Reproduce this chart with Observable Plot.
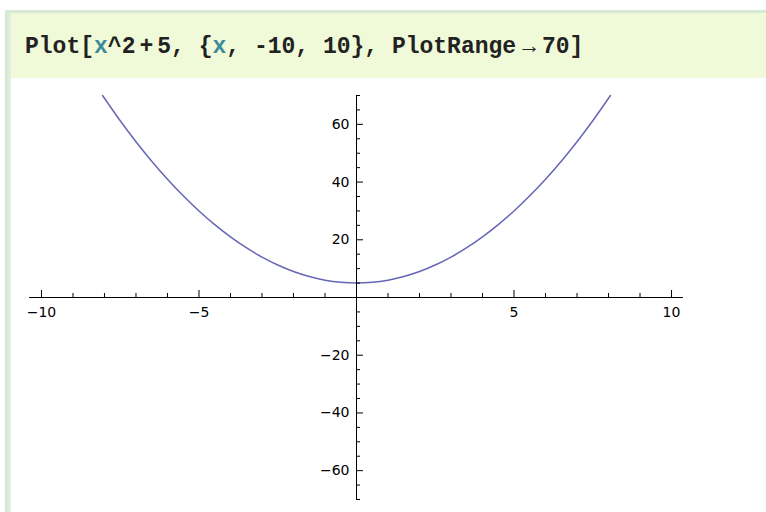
<!DOCTYPE html>
<html>
<head>
<meta charset="utf-8">
<script src="https://cdn.jsdelivr.net/npm/d3@7"></script>
<script src="https://cdn.jsdelivr.net/npm/@observablehq/plot@0.6"></script>
<style>
  html, body { margin: 0; padding: 0; background: #fff; width: 766px; height: 512px; overflow: hidden; }
  .bar-left { position: absolute; left: 5px; top: 10px; width: 6px; height: 502px;
              background: linear-gradient(to right, #cfe6cf, #e3f1e3); }
  .bar-top { position: absolute; left: 5px; top: 10px; width: 761px; height: 3px; background: #d6ead6; }
  .input { position: absolute; left: 11px; top: 13px; width: 755px; height: 65px; background: #f0fad9; }
  .code { position: absolute; left: 25px; top: 36px; font-family: "Liberation Mono", monospace;
          font-weight: bold; font-size: 23px; line-height: 23px; color: #222; white-space: pre; }
  .code .sym { color: #3f8a98; }
  .code .plus { margin: 0 4px; }
  .code .arrow { margin: 0 6px; }
  #chart { position: absolute; left: 11px; top: 78px; }
</style>
</head>
<body>
<div class="bar-left"></div>
<div class="bar-top"></div>
<div class="input"></div>
<div class="code">Plot[<span class="sym">x</span>^2<span class="plus">+</span>5, {<span class="sym">x</span>, -10, 10}, PlotRange<span class="arrow">→</span>70]</div>
<div id="chart"></div>
<script>
// Axis extents and tick positions
const xDomain = [-10.38, 10.38];
const yDomain = [-70, 70];
const xMajor = [-10, -5, 5, 10];
const xMinor = [-9, -8, -7, -6, -4, -3, -2, -1, 1, 2, 3, 4, 6, 7, 8, 9];
const yMajor = [-60, -40, -20, 20, 40, 60];
const yMinor = [-70, -65, -55, -50, -45, -35, -30, -25, -15, -10, -5,
                5, 10, 15, 25, 30, 35, 45, 50, 55, 65, 70];

// Sampled points of the parabola x^2 + 5, cut off at the top of the range
const curveX = [-8.06, -7.5, -7, -6.5, -6, -5.5, -5, -4.5, -4, -3.5, -3, -2.5, -2, -1.5, -1, -0.5,
                0, 0.5, 1, 1.5, 2, 2.5, 3, 3.5, 4, 4.5, 5, 5.5, 6, 6.5, 7, 7.5, 8.06];
const curveY = [70, 61.25, 54, 47.25, 41, 35.25, 30, 25.25, 21, 17.25, 14, 11.25, 9, 7.25, 6, 5.25,
                5, 5.25, 6, 7.25, 9, 11.25, 14, 17.25, 21, 25.25, 30, 35.25, 41, 47.25, 54, 61.25, 70];

const points = curveX.map((x, i) => ({x, y: curveY[i]}));
const fmt = d => (d < 0 ? "\u2212" : "") + Math.abs(d);
const font = {fontFamily: "DejaVu Sans", fontSize: 14, fill: "#000"};

const chart = Plot.plot({
  width: 755,
  height: 434,
  marginLeft: 18,
  marginRight: 83,
  marginTop: 17,
  marginBottom: 13,
  x: {domain: xDomain, axis: null},
  y: {domain: yDomain, axis: null},
  style: {background: "transparent", overflow: "visible"},
  marks: [
    Plot.line(points, {x: "x", y: "y", stroke: "#6666b6", strokeWidth: 1.5, curve: "catmull-rom"}),
    // axes crossing at the origin
    Plot.ruleY([0], {x1: xDomain[0], x2: xDomain[1], stroke: "#000"}),
    Plot.ruleX([0], {y1: yDomain[0], y2: yDomain[1], stroke: "#000"}),
    // x ticks pointing up from the axis
    Plot.ruleX(xMajor, {x: d => d, y1: 0, y2: 0, insetTop: -7, insetBottom: 0, stroke: "#000"}),
    Plot.ruleX(xMinor, {x: d => d, y1: 0, y2: 0, insetTop: -4, insetBottom: 0, stroke: "#000"}),
    // y ticks pointing right from the axis
    Plot.ruleY(yMajor, {y: d => d, x1: 0, x2: 0, insetLeft: 0, insetRight: -7, stroke: "#000"}),
    Plot.ruleY(yMinor, {y: d => d, x1: 0, x2: 0, insetLeft: 0, insetRight: -4, stroke: "#000"}),
    // tick labels
    Plot.text(xMajor, {x: d => d, y: 0, text: fmt, dy: 15, ...font}),
    Plot.text(yMajor, {x: 0, y: d => d, text: fmt, textAnchor: "end", dx: -7, ...font})
  ]
});
document.getElementById("chart").appendChild(chart);
</script>
</body>
</html>
